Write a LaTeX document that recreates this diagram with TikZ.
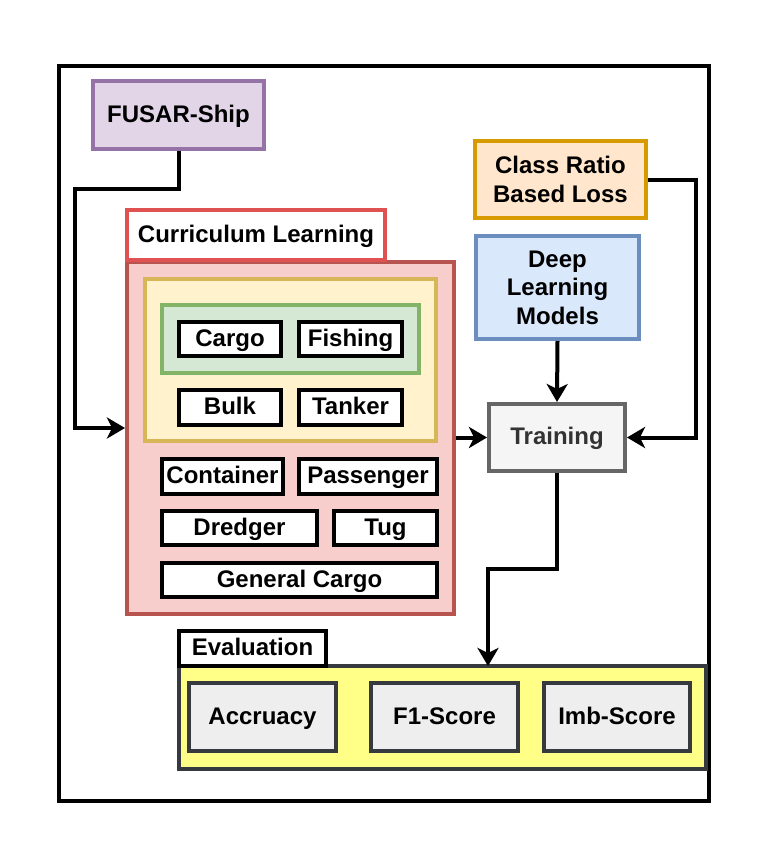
\documentclass[tikz,border=0pt]{standalone}
\usepackage{fontspec}
\setmainfont{Liberation Sans}
\usepackage{xcolor}
\usetikzlibrary{arrows.meta,positioning}

\definecolor{fusarfill}{HTML}{E1D5E7}
\definecolor{fusarline}{HTML}{9673A6}
\definecolor{curfill}{HTML}{F8CECC}
\definecolor{curline}{HTML}{B85450}
\definecolor{curtag}{HTML}{E05252}
\definecolor{yelfill}{HTML}{FFF2CC}
\definecolor{yelline}{HTML}{D6B656}
\definecolor{grnfill}{HTML}{D5E8D4}
\definecolor{grnline}{HTML}{82B366}
\definecolor{lossfill}{HTML}{FFE6CC}
\definecolor{lossline}{HTML}{D79B00}
\definecolor{dlfill}{HTML}{DAE8FC}
\definecolor{dlline}{HTML}{6C8EBF}
\definecolor{trainfill}{HTML}{F5F5F5}
\definecolor{trainline}{HTML}{666666}
\definecolor{traintext}{HTML}{333333}
\definecolor{evalfill}{HTML}{FFFF88}
\definecolor{evalline}{HTML}{36393D}
\definecolor{metfill}{HTML}{EEEEEE}

\begin{document}
\begin{tikzpicture}[x=1pt, y=-1pt,
                   every node/.style={font=\fontsize{24}{28.5}\selectfont\bfseries, inner sep=0pt, align=center},
                   box/.style={draw, rectangle, line width=4pt},
                   oneline/.style={text height=18pt, text depth=4pt},
                   cls/.style={box, oneline, fill=white, minimum height=34pt},
                   metric/.style={box, oneline, draw=evalline, fill=metfill, minimum width=147pt, minimum height=68pt},
                   conn/.style={line width=4pt, -{Stealth[length=18pt, width=21pt, inset=5pt]}}]
          \useasboundingbox (0,0) rectangle (770,867);
          \draw[line width=4pt] (59,66) rectangle (709,801);
          % data set
          \node[box, oneline, draw=fusarline, fill=fusarfill, minimum width=171pt, minimum height=68pt] (fusar) at (178.5,115) {FUSAR-Ship};
          % curriculum
          \node[box, draw=curline, fill=curfill, minimum width=327pt, minimum height=352pt] (curbox) at (290.5,438) {};
          \node[box, oneline, draw=curtag, fill=white, minimum width=258pt, minimum height=50pt] (curtag) at (256,235) {Curriculum Learning};
          \node[box, draw=yelline, fill=yelfill, minimum width=291pt, minimum height=162pt] (stage2) at (290.5,360) {};
          \node[box, draw=grnline, fill=grnfill, minimum width=257pt, minimum height=68pt] (stage1) at (290.5,339) {};
          \node[cls, minimum width=102pt] (cargo) at (230,339) {Cargo};
          \node[cls, minimum width=103pt] (fishing) at (350.5,339) {Fishing};
          \node[cls, minimum width=102pt, minimum height=35pt] (bulk) at (230,407.5) {Bulk};
          \node[cls, minimum width=103pt, minimum height=35pt] (tanker) at (350.5,407.5) {Tanker};
          \node[cls, minimum width=121pt, minimum height=35pt] (container) at (222.5,476.5) {Container};
          \node[cls, minimum width=138pt, minimum height=35pt] (passenger) at (368,476.5) {Passenger};
          \node[cls, minimum width=155pt] (dredger) at (239.5,528) {Dredger};
          \node[cls, minimum width=103pt] (tug) at (385.5,528) {Tug};
          \node[cls, minimum width=275pt] (gencargo) at (299.5,580) {General Cargo};
          % training
          \node[box, draw=lossline, fill=lossfill, minimum width=171pt, minimum height=77pt] (loss) at (560.5,179.5) {Class Ratio\\Based Loss};
          \node[box, draw=dlline, fill=dlfill, minimum width=163pt, minimum height=103pt] (models) at (557.5,287.5) {Deep\\Learning\\Models};
          \node[box, oneline, draw=trainline, fill=trainfill, text=traintext, minimum width=136pt, minimum height=67pt] (train) at (557,437.5) {Training};
          % evaluation
          \node[box, draw=evalline, fill=evalfill, minimum width=527pt, minimum height=103pt] (evalbox) at (442.5,717.5) {};
          \node[box, oneline, fill=white, minimum width=147pt, minimum height=35pt] (evaltag) at (252.5,648.5) {Evaluation};
          \node[metric] (acc) at (262.5,717) {Accruacy};
          \node[metric] (fone) at (444.5,717) {F1-Score};
          \node[metric, minimum width=146pt] (imb) at (617,717) {Imb-Score};
          % connectors
          \coordinate (curin) at ([yshift=10pt]curbox.west);
          \coordinate (evin) at (488,666);
          \draw[conn] (fusar.south) |- (75,189) |- (curin);
          \draw[conn] (curbox.east |- train.west) -- (train.west);
          \draw[conn] (models.south) -- (train.north);
          \draw[conn] (loss.east) -- ++(48,0) |- (train.east);
          \draw[conn] (train.south) -- ++(0,96) -| (evin);
        \end{tikzpicture}
\end{document}
